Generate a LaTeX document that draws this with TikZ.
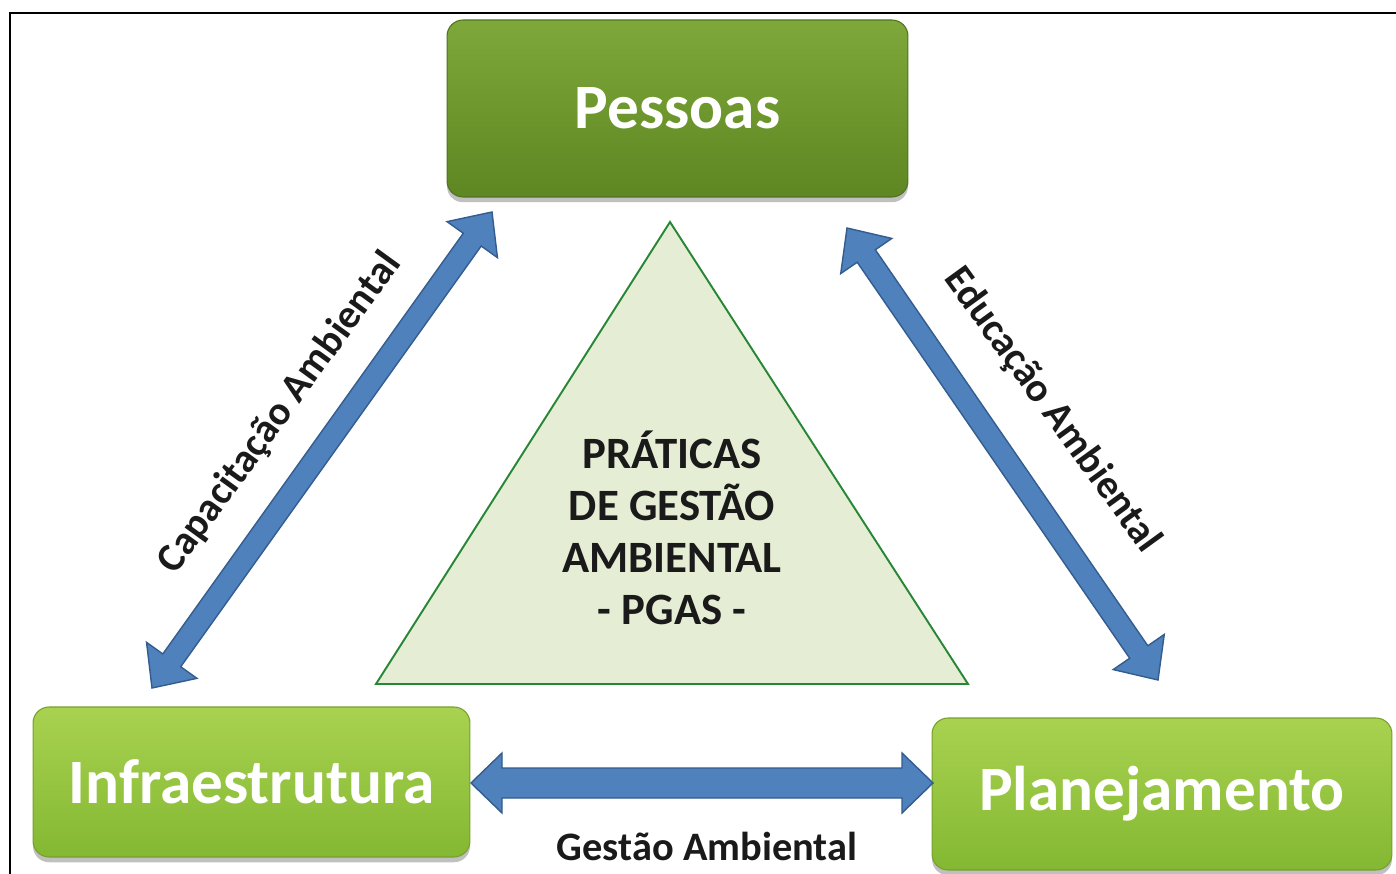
\documentclass[tikz,border=0pt]{standalone}
\usepackage{fontspec}
\setmainfont{Carlito}
\usetikzlibrary{calc,shadows}
\definecolor{arrowblue}{RGB}{79,129,189}
\definecolor{arrowedge}{RGB}{52,92,142}
\definecolor{darkgreenTop}{RGB}{126,168,58}
\definecolor{darkgreenBot}{RGB}{94,134,34}
\definecolor{darkgreenEdge}{RGB}{80,115,30}
\definecolor{lightgreenTop}{RGB}{168,210,80}
\definecolor{lightgreenBot}{RGB}{132,184,50}
\definecolor{lightgreenEdge}{RGB}{118,160,44}
\definecolor{trifill}{RGB}{229,238,212}
\definecolor{triedge}{RGB}{40,135,55}
\definecolor{labeltext}{RGB}{26,26,26}
\newcommand{\dblarrowshape}[5]{%
  \coordinate (h1) at ($(#1)!#3!(#2)$);
  \coordinate (h2) at ($(#2)!#3!(#1)$);
  \filldraw[arrowstyle] (#1) -- ($(h1)!#4!90:(#2)$) -- ($(h1)!#5!90:(#2)$)
    -- ($(h2)!#5!-90:(#1)$) -- ($(h2)!#4!-90:(#1)$) -- (#2)
    -- ($(h2)!#4!90:(#1)$) -- ($(h2)!#5!90:(#1)$)
    -- ($(h1)!#5!-90:(#2)$) -- ($(h1)!#4!-90:(#2)$) -- cycle;
}
\tikzset{
  arrowstyle/.style={fill=arrowblue, draw=arrowedge, line width=0.8pt, line join=miter},
  boxshadow/.style={drop shadow={shadow xshift=0pt, shadow yshift=-3pt, opacity=0.35, fill=black!70}},
  darkbox/.style={rounded corners=0.32cm, draw=darkgreenEdge, line width=0.6pt,
    top color=darkgreenTop, bottom color=darkgreenBot, boxshadow},
  lightbox/.style={rounded corners=0.32cm, draw=lightgreenEdge, line width=0.6pt,
    top color=lightgreenTop, bottom color=lightgreenBot, boxshadow},
  boxlabel/.style={text=white, font=\fontsize{36}{40}\selectfont\bfseries},
  arrowlabel/.style={text=labeltext, font=\fontsize{23}{26}\selectfont\bfseries},
  trilabel/.style={text=labeltext, align=center, font=\fontsize{25.5}{29.6}\selectfont\bfseries},
}
\begin{document}
\begin{tikzpicture}[x=0.02cm, y=-0.02cm]
\useasboundingbox (0,0) rectangle (1396,874);
\fill[white] (0,0) rectangle (1396,874);
% frame
\draw[line width=1.1pt, black] (10,874) -- (10,13) -- (1396,13);

% boxes
\node[darkbox, boxlabel, minimum width=9.22cm, minimum height=3.54cm] (pessoas) at (677.5,108.5) {Pessoas};
\node[lightbox, boxlabel, minimum width=8.74cm, minimum height=3.0cm] (infra) at (251.5,782) {Infraestrutura};
\node[lightbox, boxlabel, minimum width=9.2cm, minimum height=3.04cm] (plan) at (1162,794) {Planejamento};

% triangle
\coordinate (tA) at (670,222);
\coordinate (tB) at (376,684);
\coordinate (tC) at (968,684);
\filldraw[fill=trifill, draw=triedge, line width=1.1pt, line join=miter] (tA) -- (tB) -- (tC) -- cycle;
\node[trilabel] (pgas) at (672,528) {PRÁTICAS\\DE GESTÃO\\AMBIENTAL\\- PGAS -};

% arrows
\coordinate (cA1) at (152,688);
\coordinate (cA2) at (492,212);
\coordinate (cB1) at (847,228);
\coordinate (cB2) at (1158,680);
\coordinate (cC1) at (471,783);
\coordinate (cC2) at (933,783);
\dblarrowshape{cA1}{cA2}{0.68cm}{0.62cm}{0.22cm}
\dblarrowshape{cB1}{cB2}{0.68cm}{0.62cm}{0.22cm}
\dblarrowshape{cC1}{cC2}{0.62cm}{0.6cm}{0.3cm}

% arrow labels
\node[arrowlabel, rotate=54] (capac) at (280,413) {Capacitação Ambiental};
\node[arrowlabel, rotate=-54] (educ) at (1052,410) {Educação Ambiental};
\node[arrowlabel] (gestao) at (707,846) {Gestão Ambiental};
\end{tikzpicture}
\end{document}
